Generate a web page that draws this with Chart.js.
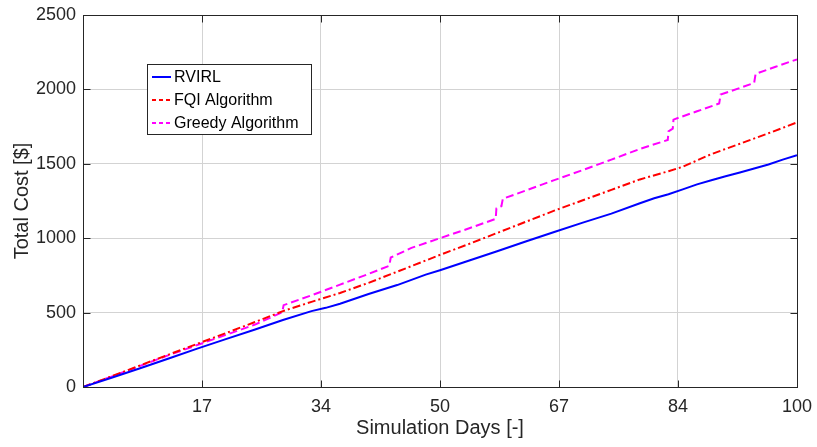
<!DOCTYPE html>
<html>
<head>
<meta charset="utf-8">
<script src="https://cdn.jsdelivr.net/npm/chart.js@4/dist/chart.umd.min.js"></script>
<style>
    html, body { margin: 0; padding: 0; background: #ffffff; }
</style>
</head>
<body>
<canvas id="cost_chart" width="817" height="447"></canvas>
<script>
// cumulative cost per controller over the 100 simulated days
const rvirlDays = [0, 4, 8, 12, 16, 20, 24, 28, 32, 34, 36, 40, 44, 48, 50, 54, 58, 62, 66, 70, 74, 78, 80, 82, 84, 86, 88, 90, 92, 94, 96, 98, 100];
const rvirlCost = [0, 62, 126, 192, 258, 322, 385, 450, 510, 532, 560, 625, 685, 755, 785, 848, 912, 978, 1042, 1105, 1165, 1235, 1268, 1295, 1328, 1362, 1390, 1416, 1442, 1468, 1495, 1528, 1558];

const fqiDays = [0, 4, 8, 12, 16, 20, 24, 28, 32, 36, 40, 44, 48, 50, 54, 58, 62, 66, 70, 74, 78, 82, 84, 88, 92, 96, 100];
const fqiCost = [0, 72, 145, 218, 290, 362, 435, 510, 572, 632, 700, 775, 850, 888, 960, 1035, 1110, 1185, 1255, 1325, 1395, 1450, 1480, 1565, 1635, 1705, 1778];

const greedyDays = [0, 4, 8, 12, 16, 20, 24, 27.9, 28.1, 32, 36, 40, 42.9, 43.1, 46, 50, 54, 57.8, 57.9, 58.6, 58.8, 62, 66, 70, 74, 78, 81.9, 82.0, 82.6, 82.7, 86, 89.1, 89.3, 92, 94.0, 94.2, 97, 100];
const greedyCost = [0, 70, 142, 214, 282, 350, 418, 502, 550, 616, 688, 760, 815, 870, 935, 1000, 1065, 1130, 1200, 1215, 1265, 1320, 1390, 1458, 1528, 1600, 1660, 1718, 1736, 1797, 1853, 1905, 1965, 2010, 2044, 2104, 2152, 2202];

const xTickDays = [0, 16.667, 33.333, 50, 66.667, 83.333, 100];
const xTickLabels = ["", "17", "34", "50", "67", "84", "100"];
const yTicks = [0, 500, 1000, 1500, 2000, 2500];

const FONT = "'Liberation Sans', Arial, Helvetica, sans-serif";
const INK = "#262626";

function points(days, cost) {
    return days.map((d, i) => ({ x: d, y: cost[i] }));
}

// box around the axes, inward tick marks and the legend inside the plot
const boxPlugin = {
    id: "box",
    afterDraw(chart) {
        const ctx = chart.ctx;
        const a = chart.chartArea;
        const xs = chart.scales.x, ys = chart.scales.y;
        const L = Math.round(a.left) + 0.5, R = Math.round(a.right) + 0.5;
        const T = Math.round(a.top) + 0.5, B = Math.round(a.bottom) + 0.5;
        ctx.save();
        ctx.strokeStyle = INK;
        ctx.lineWidth = 1;
        ctx.strokeRect(L, T, R - L, B - T);
        ctx.beginPath();
        xTickDays.forEach(d => {
            const px = Math.round(xs.getPixelForValue(d)) + 0.5;
            ctx.moveTo(px, B); ctx.lineTo(px, B - 7);
            ctx.moveTo(px, T); ctx.lineTo(px, T + 7);
        });
        yTicks.forEach(v => {
            const py = Math.round(ys.getPixelForValue(v)) + 0.5;
            ctx.moveTo(L, py); ctx.lineTo(L + 7, py);
            ctx.moveTo(R, py); ctx.lineTo(R - 7, py);
        });
        ctx.stroke();

        // legend
        const bx = 147.5, by = 64.5, bw = 164, bh = 70;
        ctx.fillStyle = "#ffffff";
        ctx.fillRect(bx, by, bw, bh);
        ctx.strokeStyle = INK;
        ctx.strokeRect(bx, by, bw, bh);
        ctx.font = `16px ${FONT}`;
        ctx.textBaseline = "middle";
        chart.data.datasets.forEach((ds, i) => {
            const y = 77 + i * 23;
            ctx.strokeStyle = ds.borderColor;
            ctx.lineWidth = 2;
            ctx.setLineDash(ds.borderDash.length ? [4, 3] : []);
            ctx.beginPath();
            ctx.moveTo(152, y); ctx.lineTo(171, y);
            ctx.stroke();
            ctx.setLineDash([]);
            ctx.fillStyle = "#000000";
            ctx.fillText(ds.label, 174, y + 1);
        });
        ctx.restore();
    }
};

new Chart(document.getElementById("cost_chart").getContext("2d"), {
    type: "line",
    data: {
        datasets: [{
            label: "RVIRL",
            data: points(rvirlDays, rvirlCost),
            borderColor: "#0000ff",
            borderWidth: 2,
            borderDash: []
        }, {
            label: "FQI Algorithm",
            data: points(fqiDays, fqiCost),
            borderColor: "#ff0000",
            borderWidth: 2,
            borderDash: [8, 3, 2, 3]
        }, {
            label: "Greedy Algorithm",
            data: points(greedyDays, greedyCost),
            borderColor: "#ff00ff",
            borderWidth: 2,
            borderDash: [8, 4]
        }]
    },
    options: {
        responsive: false,
        animation: false,
        devicePixelRatio: 1,
        layout: { padding: { top: 15, right: 20, left: 0, bottom: 0 } },
        elements: { point: { radius: 0 }, line: { tension: 0, fill: false } },
        plugins: { legend: { display: false }, tooltip: { enabled: false } },
        scales: {
            x: {
                type: "linear",
                min: 0,
                max: 100,
                afterBuildTicks: s => { s.ticks = xTickDays.map(v => ({ value: v })); },
                afterFit: s => {
                    s.height = 60;
                    s.paddingLeft = 0;
                    s.paddingRight = 0;
                },
                ticks: {
                    callback: (v, i) => xTickLabels[i],
                    autoSkip: false,
                    maxRotation: 0,
                    padding: 9,
                    color: INK,
                    font: { family: FONT, size: 18 }
                },
                grid: { color: "#d3d3d3", drawTicks: false },
                border: { color: INK },
                title: {
                    display: true,
                    text: "Simulation Days [-]",
                    color: INK,
                    font: { family: FONT, size: 20 },
                    padding: { top: 0, bottom: 7 }
                }
            },
            y: {
                min: 0,
                max: 2500,
                afterBuildTicks: s => { s.ticks = yTicks.map(v => ({ value: v })); },
                afterFit: s => {
                    s.width = 83;
                    s.paddingTop = 0;
                    s.paddingBottom = 0;
                },
                ticks: {
                    callback: v => String(v),
                    padding: 7,
                    color: INK,
                    font: { family: FONT, size: 18 }
                },
                grid: { color: "#d3d3d3", drawTicks: false },
                border: { color: INK },
                title: {
                    display: true,
                    text: "Total Cost [$]",
                    color: INK,
                    font: { family: FONT, size: 20 },
                    padding: { top: 10, bottom: 0 }
                }
            }
        }
    },
    plugins: [boxPlugin]
});
</script>
</body>
</html>
